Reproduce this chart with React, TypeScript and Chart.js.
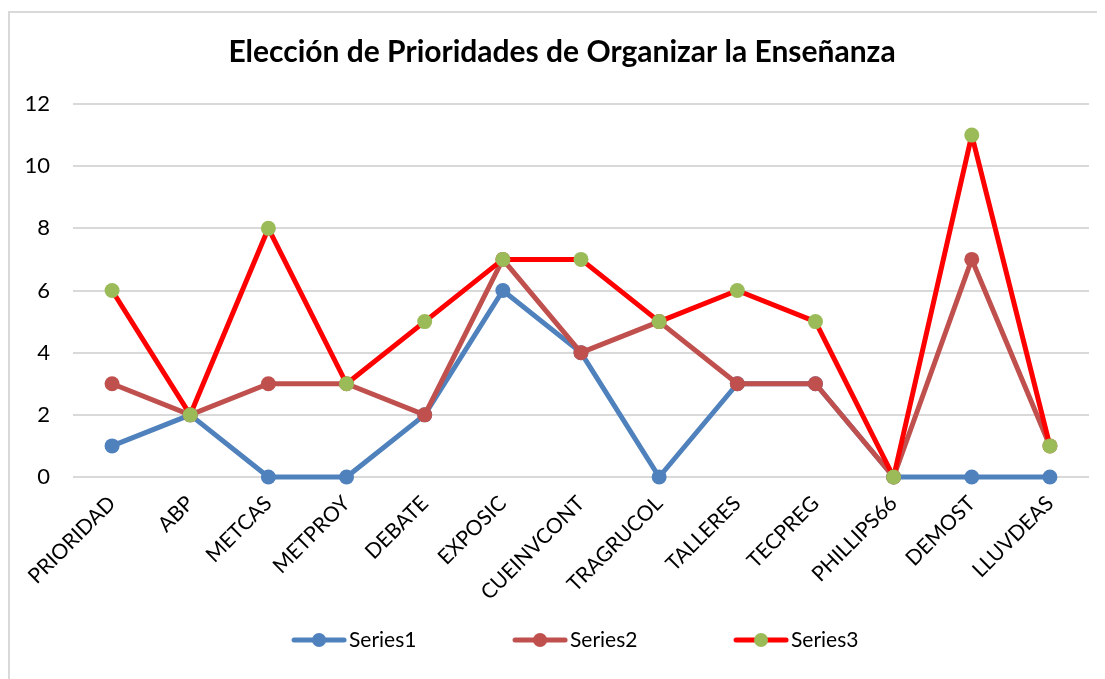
import React, { useEffect, useRef } from "react";
import { Chart, registerables } from "chart.js";

Chart.register(...registerables);

const categories = [
  "PRIORIDAD", "ABP", "METCAS", "METPROY", "DEBATE", "EXPOSIC", "CUEINVCONT",
  "TRAGRUCOL", "TALLERES", "TECPREG", "PHILLIPS66", "DEMOST", "LLUVDEAS",
];
const series1 = [1, 2, 0, 0, 2, 6, 4, 0, 3, 3, 0, 0, 0];
const series2 = [3, 2, 3, 3, 2, 7, 4, 5, 3, 3, 0, 7, 1];
const series3 = [6, 2, 8, 3, 5, 7, 7, 5, 6, 5, 0, 11, 1];
const seriesNames = ["Series1", "Series2", "Series3"];
const titleText = "Elección de Prioridades de Organizar la Enseñanza";

const FONT = "Lato, 'Open Sans', sans-serif";
const LEGEND_FS = 21;

export default function App() {
  const ref = useRef<HTMLCanvasElement>(null);
  useEffect(() => {
    document.body.style.overflow = "hidden";
    const colors = [
      { line: "#4f81bd", point: "#4f81bd" },
      { line: "#c0504d", point: "#c0504d" },
      { line: "#ff0000", point: "#9bbb59" },
    ];
    const data = [series1, series2, series3];

    const padL = 25;
    const padR = 8;
    // legend geometry
    const mctx = document.createElement("canvas").getContext("2d")!;
    mctx.font = `${LEGEND_FS}px ${FONT}`;
    const tw = mctx.measureText("Series1").width;
    const h = LEGEND_FS / 2;
    const itemSpacing = 221;
    const B = Math.round(41 - padL + tw - h);
    const P = Math.max(4, itemSpacing - B - h - tw);
    const W = Math.ceil(B + 2 * h + 120);
    const iconOffset = B / 2 + h - 58 + W / 2;
    const legendCenterY = 627;
    const legendTop = legendCenterY - P - LEGEND_FS / 2;
    const chartBottom = 464;
    const xAxisHeight = legendTop - chartBottom;
    const bottomPad = Math.max(0, 666 - (legendTop + LEGEND_FS + P + 10));

    const legendIcon = (lineColor: string, pointColor: string) => {
      const c = document.createElement("canvas");
      c.width = W;
      c.height = 18;
      const ctx = c.getContext("2d")!;
      ctx.strokeStyle = lineColor;
      ctx.lineWidth = 5;
      ctx.lineCap = "round";
      ctx.beginPath();
      ctx.moveTo(iconOffset + 3, 9);
      ctx.lineTo(iconOffset + 53, 9);
      ctx.stroke();
      ctx.fillStyle = pointColor;
      ctx.beginPath();
      ctx.arc(iconOffset + 28, 9, 7, 0, Math.PI * 2);
      ctx.fill();
      return c;
    };

    const unclipLabels = {
      id: "unclipLabels",
      afterLayout(ch: any) {
        ch.scales.x.bottom = ch.height;
        ch.scales.y.left = 0;
      },
    };

    const chart = new Chart(ref.current!, {
      type: "line",
      data: {
        labels: categories,
        datasets: data.map((d, i) => ({
          label: seriesNames[i],
          data: d,
          borderColor: colors[i].line,
          backgroundColor: colors[i].point,
          pointBackgroundColor: colors[i].point,
          pointBorderColor: colors[i].point,
          pointRadius: 7.5,
          pointBorderWidth: 0,
          borderWidth: 5,
          borderJoinStyle: "round" as const,
          tension: 0,
          order: 3 - i,
          fill: false,
          clip: false as const,
        })),
      },
      plugins: [unclipLabels],
      options: {
        responsive: false,
        animation: false,
        layout: { padding: { left: padL, right: padR, top: 0, bottom: bottomPad } },
        plugins: {
          tooltip: { enabled: false },
          title: {
            display: true,
            text: titleText,
            color: "#000",
            font: { family: FONT, size: 30, weight: "bold" },
            padding: { top: 21, bottom: 34 },
          },
          legend: {
            position: "bottom",
            labels: {
              usePointStyle: true,
              pointStyleWidth: B,
              padding: P,
              color: "#000",
              font: { family: FONT, size: LEGEND_FS },
              generateLabels: (ch: any) =>
                ch.data.datasets.map((ds: any, i: number) => ({
                  text: ds.label,
                  datasetIndex: i,
                  pointStyle: legendIcon(colors[i].line, colors[i].point),
                  fillStyle: colors[i].point,
                  strokeStyle: colors[i].line,
                  lineWidth: 0,
                  hidden: false,
                  fontColor: "#000",
                })),
            },
          },
        },
        scales: {
          x: {
            offset: true,
            grid: { display: false, drawTicks: false },
            border: { display: false },
            ticks: {
              minRotation: 45,
              maxRotation: 45,
              autoSkip: false,
              padding: 14,
              color: "#000",
              font: { family: FONT, size: 21 },
            },
            afterFit: (s: any) => { s.height = xAxisHeight; },
          },
          y: {
            min: 0,
            max: 12,
            grid: { color: "#d9d9d9", lineWidth: 2, drawTicks: false },
            border: { display: false },
            ticks: {
              stepSize: 2,
              padding: 23,
              color: "#000",
              font: { family: FONT, size: 22 },
            },
            afterFit: (s: any) => { s.width = 63 - padL; },
          },
        },
      },
    });
    return () => chart.destroy();
  }, []);
  return (
    <div
      style={{
        marginTop: 3,
        width: 1089,
        height: 666,
        borderLeft: "2px solid #d9d9d9",
        borderTop: "2px solid #d9d9d9",
      }}
    >
      <canvas ref={ref} width={1087} height={666} style={{ display: "block" }} />
    </div>
  );
}
